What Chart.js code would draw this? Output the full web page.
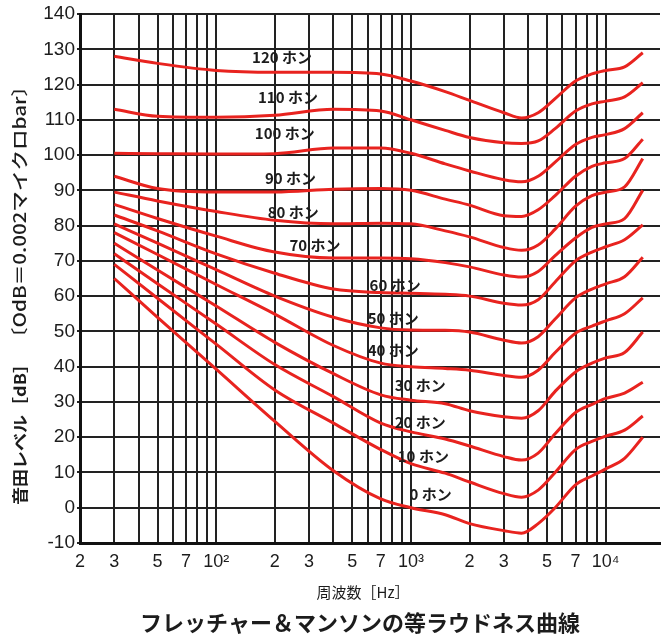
<!DOCTYPE html>
<html>
<head>
<meta charset="utf-8">
<script src="https://cdn.jsdelivr.net/npm/chart.js@4.4.1/dist/chart.umd.min.js"></script>
<style>
  html, body { margin: 0; padding: 0; background: #fff; }
</style>
</head>
<body>
<canvas id="loudness" width="665" height="636"></canvas>
<script>
const freqs = [30, 50, 100, 200, 400, 700, 1000, 1500, 2000, 3000, 3700, 4500, 5500, 7000, 8500, 10000, 12500, 15500];

// sound level (dB) of each equal loudness curve
const phon0   = [65, 54, 39.3, 24.5, 10.5, 2.5, 0, -2, -4.5, -6.5, -7.2, -4.5, 0, 6.5, 9, 11, 14, 20];
const phon10  = [69, 59.4, 46.4, 33.4, 24, 16.5, 12.5, 9.8, 7.3, 4, 3, 5, 10, 16.5, 18.8, 20.3, 22, 26];
const phon20  = [72, 63.5, 52.1, 40.6, 31.5, 24, 21.5, 19.5, 17.5, 14.5, 13.5, 15.5, 21, 27, 29.3, 31, 32.5, 35.6];
const phon30  = [75, 67.4, 57.2, 46.9, 38, 32, 30.5, 29.5, 27.5, 25.8, 25.4, 27.5, 33, 38.5, 41, 42.5, 44, 49.8];
const phon40  = [78, 71.8, 63.3, 54.9, 46, 41, 40, 39.5, 39, 37.5, 37, 39, 44, 49.5, 51.5, 53, 55, 59.5];
const phon50  = [80.5, 75, 67.5, 60, 54, 51, 50.4, 50.3, 49.8, 47.5, 46.7, 48.5, 53.5, 59.5, 62, 63.5, 65.5, 71];
const phon60  = [83, 78.5, 72, 66.5, 62, 61, 60.8, 60.5, 60, 58, 57.5, 59, 64, 70, 72.5, 74, 76, 80.2];
const phon70  = [86, 82, 77, 72.5, 70.8, 70.8, 70.6, 69.5, 68.3, 66, 65.4, 67, 71.5, 76.5, 79.5, 80.5, 82, 90];
const phon80  = [89.5, 87, 84, 81.5, 80.5, 80.7, 80.5, 78.5, 76.8, 73.8, 73, 74.5, 79, 85.5, 88.5, 89.5, 91, 99];
const phon90  = [94, 90.5, 89.5, 89.5, 90.3, 90.5, 90, 87.5, 85.8, 82.8, 82.6, 84.5, 88.5, 94, 96.8, 97.8, 99, 104.5];
const phon100 = [100.5, 100.4, 100.3, 100.4, 102, 102, 100.5, 97.5, 95.5, 93, 92.4, 94, 98, 103, 105, 105.8, 107.5, 112];
const phon110 = [113, 111, 110.7, 111.3, 113, 112.5, 110, 107, 105, 103.5, 103.3, 104, 107.5, 112.5, 114.5, 115.3, 116.5, 120.5];
const phon120 = [128, 126, 124, 123.5, 123.5, 123, 121, 118, 115.5, 112, 110.5, 112, 116, 121, 123, 124, 125, 129];

const phonLevels = [0, 10, 20, 30, 40, 50, 60, 70, 80, 90, 100, 110, 120];
const curves = [phon0, phon10, phon20, phon30, phon40, phon50, phon60, phon70, phon80, phon90, phon100, phon110, phon120];

// grid lines of the log axis and the labels written under them
const xTicks = [20, 30, 40, 50, 60, 70, 80, 90, 100, 200, 300, 400, 500, 600, 700, 800, 900,
                1000, 2000, 3000, 4000, 5000, 6000, 7000, 8000, 9000, 10000];
const xLabelValues = [20, 30, 50, 70, 100, 200, 300, 500, 700, 1000, 2000, 3000, 5000, 7000, 10000];
const xLabelTexts  = ['2', '3', '5', '7', '10²', '2', '3', '5', '7', '10³', '2', '3', '5', '7', '10⁴'];

// where the "xx ホン" names sit (Hz, dB at the left end of the text), 120 first
const curveNames = [
  { f: 153, db: 127.8 }, { f: 164, db: 116.5 }, { f: 158, db: 106.2 },
  { f: 178, db: 93.5 },  { f: 184, db: 83.8 },  { f: 238, db: 74.5 },
  { f: 613, db: 63.2 },  { f: 600, db: 53.8 },  { f: 600, db: 44.7 },
  { f: 826, db: 34.8 },  { f: 826, db: 24.3 },  { f: 856, db: 14.7 },
  { f: 984, db: 3.9 }
];

const RED = '#e8231f';
const INK = '#1c1c1c';
const JP = '"Noto Sans CJK JP", "Noto Sans", sans-serif';

const datasets = curves.map((vals, i) => ({
  label: phonLevels[i] + ' ホン',
  data: freqs.map((f, j) => ({ x: f, y: vals[j] })),
  borderColor: RED,
  borderWidth: 3,
  pointRadius: 0,
  fill: false,
  cubicInterpolationMode: 'monotone'
}));

//****** text on top of the plot ******
const textPlugin = {
  id: 'texts',
  afterDraw(chart) {
    const ctx = chart.ctx;
    const xs = chart.scales.x, ys = chart.scales.y;
    const area = chart.chartArea;
    ctx.save();
    ctx.fillStyle = INK;

    // curve names
    ctx.font = 'bold 15px ' + JP;
    ctx.textAlign = 'left';
    ctx.textBaseline = 'middle';
    curveNames.forEach((n, i) => {
      const lvl = phonLevels[phonLevels.length - 1 - i];
      ctx.fillText(lvl + ' ホン', xs.getPixelForValue(n.f), ys.getPixelForValue(n.db));
    });

    // x title and caption
    ctx.textAlign = 'center';
    ctx.font = '15px ' + JP;
    ctx.fillText('周波数［Hz］', area.left + 283, area.bottom + 49);
    ctx.font = 'bold 22px ' + JP;
    ctx.fillText('フレッチャー＆マンソンの等ラウドネス曲線', area.left + 280, area.bottom + 80);

    // vertical y title in two parts
    drawVertical(ctx, '音田レベル［dB］', 'bold 16px ' + JP, 20, 430, 150);
    drawVertical(ctx, '〔OdB＝0.002マイクロbar〕', '500 17px ' + JP, 20, 212, 272);
    ctx.restore();
  }
};

function drawVertical(ctx, text, font, x, yMid, len) {
  ctx.save();
  ctx.font = font;
  ctx.translate(x, yMid);
  ctx.rotate(-Math.PI / 2);
  const w = ctx.measureText(text).width;
  ctx.scale(len / w, 1);
  ctx.textAlign = 'center';
  ctx.textBaseline = 'middle';
  ctx.fillText(text, 0, 0);
  ctx.restore();
}

const ctx = document.getElementById('loudness');
const chart = new Chart(ctx, {
  type: 'line',
  data: { datasets: datasets },
  options: {
    responsive: false,
    devicePixelRatio: 1,
    animation: false,
    layout: { padding: { top: 14, right: 5, left: 0, bottom: 0 } },
    plugins: {
      legend: { display: false },
      tooltip: { enabled: false }
    },
    scales: {
      x: {
        type: 'logarithmic',
        min: 20,
        max: 19000,
        afterBuildTicks: (scale) => { scale.ticks = xTicks.map(v => ({ value: v })); },
        afterFit: (scale) => { scale.height = 93; },
        ticks: {
          autoSkip: false,
          maxRotation: 0,
          padding: 8,
          color: INK,
          font: { family: '"Liberation Sans", Arial, sans-serif', size: 18 },
          callback: (value) => {
            const k = xLabelValues.indexOf(value);
            return k < 0 ? '' : xLabelTexts[k];
          }
        },
        grid: { color: '#222', lineWidth: 2, drawTicks: false },
        border: { color: '#111', width: 3 }
      },
      y: {
        min: -10,
        max: 140,
        afterFit: (scale) => { scale.width = 80; },
        ticks: {
          stepSize: 10,
          padding: 2,
          color: INK,
          font: { family: '"Liberation Sans", Arial, sans-serif', size: 19 }
        },
        grid: { color: '#222', lineWidth: 2, tickLength: 3 },
        border: { color: '#111', width: 3 }
      }
    }
  },
  plugins: [textPlugin]
});
</script>
</body>
</html>
